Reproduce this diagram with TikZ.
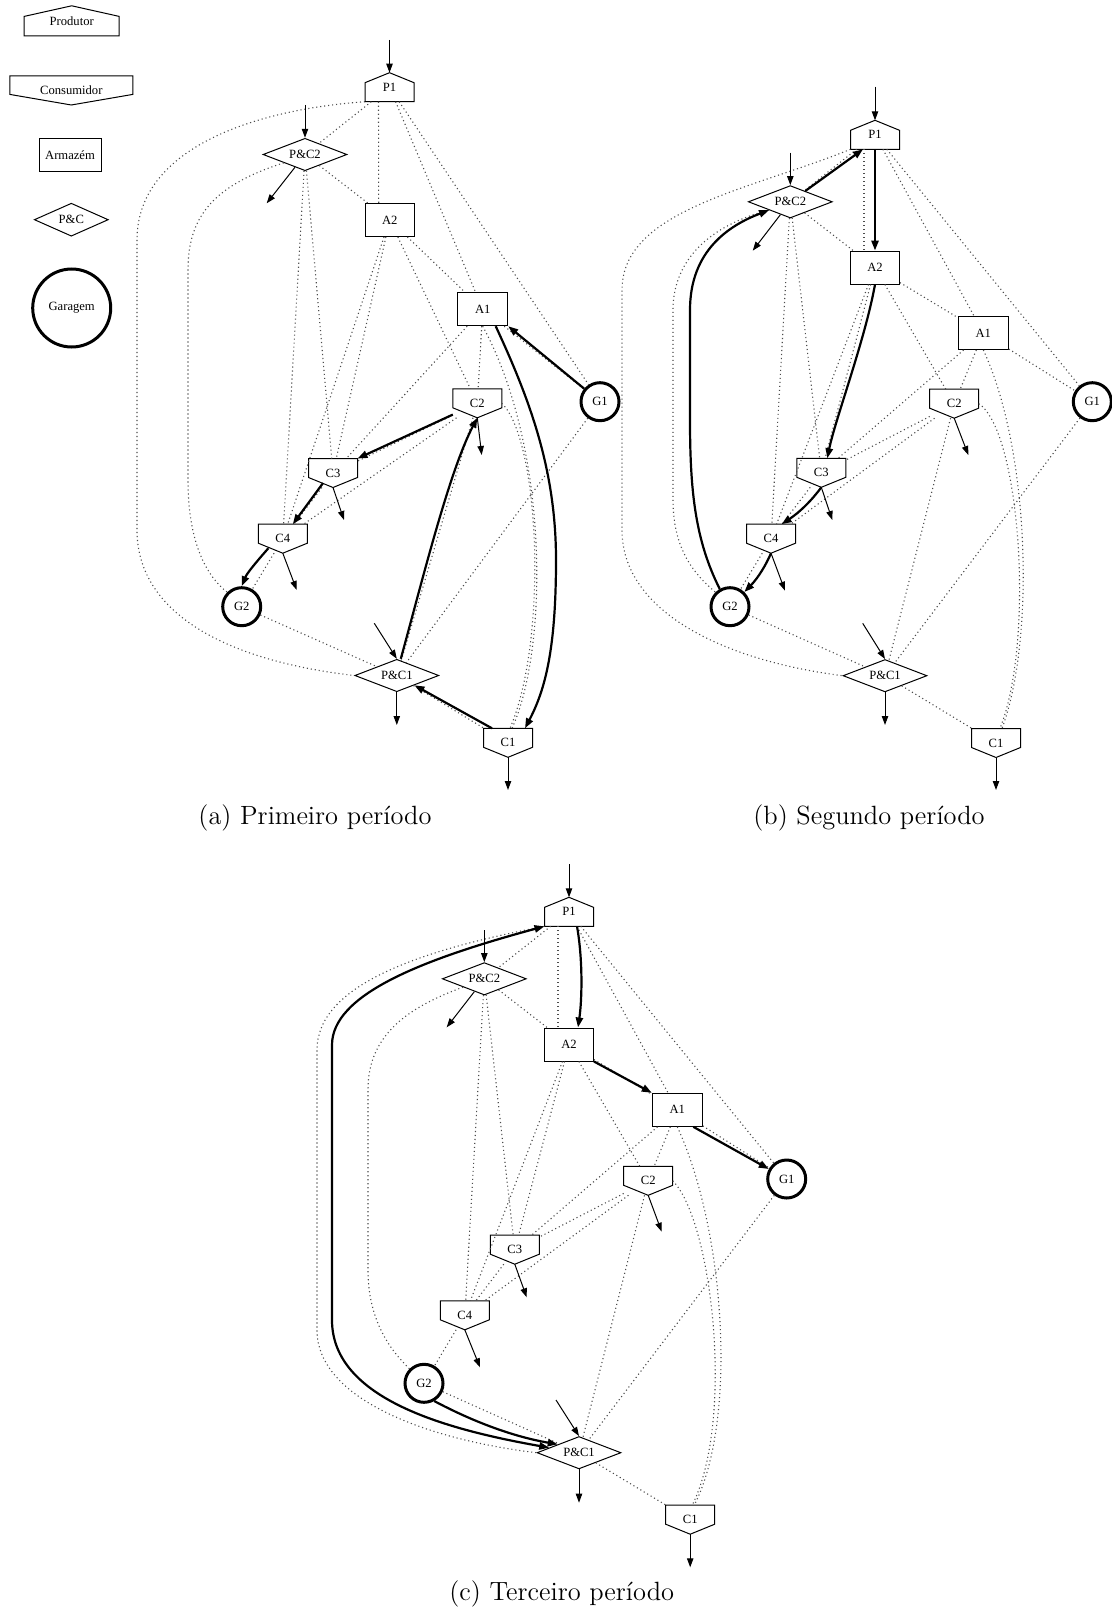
\documentclass[tikz,border=0pt]{standalone}
\usepackage{fontspec}
\newfontfamily\gvfont{Liberation Serif}
\usetikzlibrary{shapes.geometric,arrows.meta,calc}
\newcommand{\drawhouse}[2]{\draw[shp] (#1.south west) -- (#1.south east) -- ([yshift=-#2]#1.north east) -- (#1.north) -- ([yshift=-#2]#1.north west) -- cycle;}
\newcommand{\drawinvhouse}[2]{\draw[shp] (#1.north west) -- (#1.north east) -- ([yshift=#2]#1.south east) -- (#1.south) -- ([yshift=#2]#1.south west) -- cycle;}
\newcommand{\dotnet}[1]{%
  \foreach \xa/\xb in {P1/PC2, P1/A1, P1/G1, PC2/A2, PC2/C3, PC2/C4, A2/A1, A2/C2, A2/C3, A2/C4, A1/C2, A1/C3, A1/G1, C2/C3, C2/C4, C2/PC1, C3/C4, C4/G2, G1/PC1, G2/PC1, PC1/C1}
    {\draw[dotl] (\xa#1) -- (\xb#1);}%
  \draw[dotl] ([xshift=-5.5pt]P1#1.south) -- ([xshift=-5.5pt]A2#1.north);%
}
\tikzset{
  gv/.style={font=\gvfont\fontsize{6.3}{7}\selectfont},
  shp/.style={draw=black, line width=0.5pt, line join=miter},
  hbox/.style={gv, rectangle, inner sep=0pt, outer sep=0pt, minimum width=24.5pt, minimum height=14.5pt},
  abox/.style={gv, rectangle, draw, line width=0.5pt, inner sep=0pt, minimum width=24.5pt, minimum height=16.5pt},
  dbox/.style={gv, diamond, draw, line width=0.5pt, inner sep=0pt, shape aspect=2.6, minimum width=42pt, minimum height=16.2pt},
  gbox/.style={gv, circle, draw, line width=1.5pt, inner sep=0pt, minimum size=19pt},
  dotl/.style={line width=0.55pt, black!70, dash pattern=on 0.55pt off 1.45pt},
  thinarr/.style={line width=0.5pt, -{Triangle[length=4.5pt,width=3.2pt]}},
  boldarr/.style={line width=1.1pt, -{Triangle[length=5pt,width=3.6pt]}},
  boldboth/.style={line width=1.1pt, {Triangle[length=5pt,width=3.6pt]}-{Triangle[length=5pt,width=3.6pt]}},
  capt/.style={font=\fontsize{13.2}{15}\selectfont, inner sep=0pt}
}
\begin{document}
\begin{tikzpicture}[x=0.5pt, y=-0.5pt]
\useasboundingbox (0,0) rectangle (1112,1611);

% ---------------- legend ----------------
\node[hbox, minimum width=47.5pt, minimum height=15pt] (Lprod) at (71.7,20.8) {Produtor}; \drawhouse{Lprod}{5.3pt}
\node[hbox, minimum width=61.5pt, minimum height=14.5pt] (Lcons) at (71.3,90.5) {Consumidor}; \drawinvhouse{Lcons}{5.3pt}
\node[abox, minimum width=31pt] (Larm) at (70,154.7) {Armazém};
\node[dbox, minimum width=37pt, minimum height=16.5pt] (Lpc) at (71.3,219.7) {P\&C};
\node[gbox, minimum size=39pt] (Lgar) at (71.7,308) {Garagem};

% ---------------- panel (a) ----------------
\node[hbox] (P1a) at (389.5,87.2) {P1}; \drawhouse{P1a}{5pt}
\node[dbox] (PC2a) at (305,154.5) {P\&C2};
\node[abox] (A2a) at (389.7,220) {A2};
\node[abox, minimum width=25pt] (A1a) at (482.7,309.2) {A1};
\node[hbox] (C2a) at (477.3,403.3) {C2}; \drawinvhouse{C2a}{5pt}
\node[gbox] (G1a) at (600,401.7) {G1};
\node[hbox] (C3a) at (333,473) {C3}; \drawinvhouse{C3a}{5pt}
\node[hbox] (C4a) at (282.8,538.7) {C4}; \drawinvhouse{C4a}{5pt}
\node[gbox] (G2a) at (241.7,606.7) {G2};
\node[dbox] (PC1a) at (396.8,675.5) {P\&C1};
\node[hbox] (C1a) at (508,742.8) {C1}; \drawinvhouse{C1a}{5pt}

\dotnet{a}
\draw[dotl] (P1a.south west) .. controls (250,110) and (137,150) .. (137,240) -- (137,530) .. controls (137,610) and (220,660) .. (PC1a.west);
\draw[dotl] (PC2a.south west) .. controls (215,185) and (188,215) .. (188,270) -- (188,480) .. controls (188,540) and (205,575) .. (G2a.135);
\draw[dotl] (A1a.south) .. controls (550,450) and (548,650) .. ([xshift=2pt]C1a.north);
\draw[dotl] (C2a.east) .. controls (540,440) and (548,640) .. ([xshift=1pt]C1a.north);

\coordinate (inP1a) at (389.5,40);
\coordinate (inPC2a) at (305,105);
\coordinate (outPC2a) at (266.7,203.3);
\coordinate (outC2a) at (481.7,455);
\coordinate (outC3a) at (344,520);
\coordinate (outC4a) at (296.7,590);
\coordinate (inPC1a) at (374.3,623.3);
\coordinate (outPC1a) at (396.8,725);
\coordinate (outC1a) at (508,790);
\draw[thinarr] (inP1a) -- (P1a.north);
\draw[thinarr] (inPC2a) -- (PC2a.north);
\draw[thinarr] (PC2a) -- (outPC2a);
\draw[thinarr] (C2a.south) -- (outC2a);
\draw[thinarr] (C3a.south) -- (outC3a);
\draw[thinarr] (C4a.south) -- (outC4a);
\draw[thinarr] (inPC1a) -- (PC1a.north);
\draw[thinarr] (PC1a.south) -- (outPC1a);
\draw[thinarr] (C1a.south) -- (outC1a);

\draw[boldarr] (G1a) -- (A1a.south east);
\draw[boldarr] ([xshift=6.5pt]A1a.south) .. controls (530,400) and (556,470) .. (556,560) .. controls (556,650) and (545,690) .. ([xshift=8.5pt]C1a.north);
\draw[boldarr] ([xshift=-8pt]C1a.north) -- (PC1a);
\draw[boldarr] ([xshift=2pt]PC1a.north) .. controls (425,570) and (450,470) .. (C2a.south);
\draw[boldarr] (C2a) -- (C3a.north east);
\draw[boldarr] ([xshift=-5pt,yshift=2.2pt]C3a.south) -- ([xshift=5pt]C4a.north);
\draw[boldarr] ([xshift=-7.2pt,yshift=2.5pt]C4a.south) .. controls (258,560) and (247,573) .. (G2a.north);

\node[capt] (capa) at (315,818) {(a) Primeiro período};

% ---------------- panel (b) ----------------
\node[hbox] (P1b) at (875,134.8) {P1}; \drawhouse{P1b}{5pt}
\node[dbox] (PC2b) at (790.3,201.8) {P\&C2};
\node[abox] (A2b) at (875,267.5) {A2};
\node[abox, minimum width=25pt] (A1b) at (983.3,333) {A1};
\node[hbox] (C2b) at (954.2,403.7) {C2}; \drawinvhouse{C2b}{5pt}
\node[gbox] (G1b) at (1092.3,401.7) {G1};
\node[hbox] (C3b) at (821.3,472.8) {C3}; \drawinvhouse{C3b}{5pt}
\node[hbox] (C4b) at (771,538.7) {C4}; \drawinvhouse{C4b}{5pt}
\node[gbox] (G2b) at (730,606.7) {G2};
\node[dbox] (PC1b) at (885,675.7) {P\&C1};
\node[hbox] (C1b) at (996,743) {C1}; \drawinvhouse{C1b}{5pt}

\dotnet{b}
\draw[dotl] (P1b.south west) .. controls (750,190) and (622,210) .. (622,290) -- (622,530) .. controls (622,610) and (720,660) .. (PC1b.west);
\draw[dotl] (PC2b.south west) .. controls (710,225) and (673,260) .. (673,310) -- (673,500) .. controls (673,550) and (695,575) .. (G2b.135);
\draw[dotl] (A1b.south) .. controls (1030,450) and (1035,640) .. ([xshift=3pt]C1b.north);
\draw[dotl] (C2b.east) .. controls (1020,430) and (1035,640) .. ([xshift=2pt]C1b.north);

\coordinate (inP1b) at (875,86.7);
\coordinate (inPC2b) at (790.3,152.7);
\coordinate (outPC2b) at (752.7,250.7);
\coordinate (outC2b) at (968.3,455);
\coordinate (outC3b) at (832.3,520);
\coordinate (outC4b) at (785,590.7);
\coordinate (inPC1b) at (862.7,623.3);
\coordinate (outPC1b) at (885,725);
\coordinate (outC1b) at (996,790);
\draw[thinarr] (inP1b) -- (P1b.north);
\draw[thinarr] (inPC2b) -- (PC2b.north);
\draw[thinarr] (PC2b) -- (outPC2b);
\draw[thinarr] (C2b.south) -- (outC2b);
\draw[thinarr] (C3b.south) -- (outC3b);
\draw[thinarr] (C4b.south) -- (outC4b);
\draw[thinarr] (inPC1b) -- (PC1b.north);
\draw[thinarr] (PC1b.south) -- (outPC1b);
\draw[thinarr] (C1b.south) -- (outC1b);

\draw[boldarr] (G2b.120) .. controls (695,540) and (690,490) .. (690,420) -- (690,310) .. controls (690,250) and (730,225) .. (PC2b.south west);
\draw[boldarr] (PC2b) -- ([xshift=-6pt]P1b.south);
\draw[boldarr] (P1b.south) -- (A2b.north);
\draw[boldarr] (A2b.south) .. controls (865,340) and (835,420) .. ([xshift=3pt]C3b.north);
\draw[boldarr] (C3b.south) .. controls (812,500) and (800,512) .. ([xshift=5.3pt]C4b.north);
\draw[boldarr] (C4b.south) .. controls (766,565) and (758,578) .. (G2b);

\node[capt] (capb) at (869,818) {(b) Segundo período};

% ---------------- panel (c) ----------------
\node[hbox] (P1c) at (569,911.8) {P1}; \drawhouse{P1c}{5pt}
\node[dbox] (PC2c) at (484.3,978.8) {P\&C2};
\node[abox] (A2c) at (569,1044.5) {A2};
\node[abox, minimum width=25pt] (A1c) at (677.3,1109.8) {A1};
\node[hbox] (C2c) at (648.2,1180.8) {C2}; \drawinvhouse{C2c}{5pt}
\node[gbox] (G1c) at (786.7,1179) {G1};
\node[hbox] (C3c) at (514.8,1249.7) {C3}; \drawinvhouse{C3c}{5pt}
\node[hbox] (C4c) at (464.8,1315.3) {C4}; \drawinvhouse{C4c}{5pt}
\node[gbox] (G2c) at (424,1383.3) {G2};
\node[dbox] (PC1c) at (579,1452.7) {P\&C1};
\node[hbox] (C1c) at (690.2,1519.7) {C1}; \drawinvhouse{C1c}{5pt}

\dotnet{c}
\draw[dotl] (P1c.south west) .. controls (420,950) and (317,985) .. (317,1050) -- (317,1330) .. controls (317,1400) and (430,1440) .. (PC1c.west);
\draw[dotl] (PC2c.south west) .. controls (400,1010) and (368,1040) .. (368,1090) -- (368,1270) .. controls (368,1320) and (390,1350) .. (G2c.135);
\draw[dotl] (A1c.south) .. controls (725,1230) and (738,1420) .. ([xshift=2pt]C1c.north);
\draw[dotl] (C2c.east) .. controls (712,1220) and (735,1420) .. ([xshift=1pt]C1c.north);

\coordinate (inP1c) at (569,864.3);
\coordinate (inPC2c) at (484.3,930);
\coordinate (outPC2c) at (446.7,1027.3);
\coordinate (outC2c) at (661.7,1231.7);
\coordinate (outC3c) at (526.7,1297.3);
\coordinate (outC4c) at (480,1367.3);
\coordinate (inPC1c) at (556,1400);
\coordinate (outPC1c) at (579,1502.7);
\coordinate (outC1c) at (690.2,1567.3);
\draw[thinarr] (inP1c) -- (P1c.north);
\draw[thinarr] (inPC2c) -- (PC2c.north);
\draw[thinarr] (PC2c) -- (outPC2c);
\draw[thinarr] (C2c.south) -- (outC2c);
\draw[thinarr] (C3c.south) -- (outC3c);
\draw[thinarr] (C4c.south) -- (outC4c);
\draw[thinarr] (inPC1c) -- (PC1c.north);
\draw[thinarr] (PC1c.south) -- (outPC1c);
\draw[thinarr] (C1c.south) -- (outC1c);

\draw[boldarr] ([xshift=4pt]P1c.south) .. controls (583,960) and (582,1000) .. ([xshift=4.5pt]A2c.north);
\draw[boldarr] (A2c.south east) -- (A1c.north west);
\draw[boldarr] ([xshift=8pt]A1c.south) -- (G1c);
\draw[boldarr] (G2c.-60) .. controls (470,1420) and (510,1436) .. (PC1c.north west);
\draw[boldboth] ($(PC1c.west)!0.3!(PC1c.north)$) .. controls (450,1430) and (332,1400) .. (332,1320) -- (332,1045) .. controls (332,995) and (420,960) .. (P1c.south west);

\node[capt] (capc) at (561.7,1594) {(c) Terceiro período};
\end{tikzpicture}
\end{document}
